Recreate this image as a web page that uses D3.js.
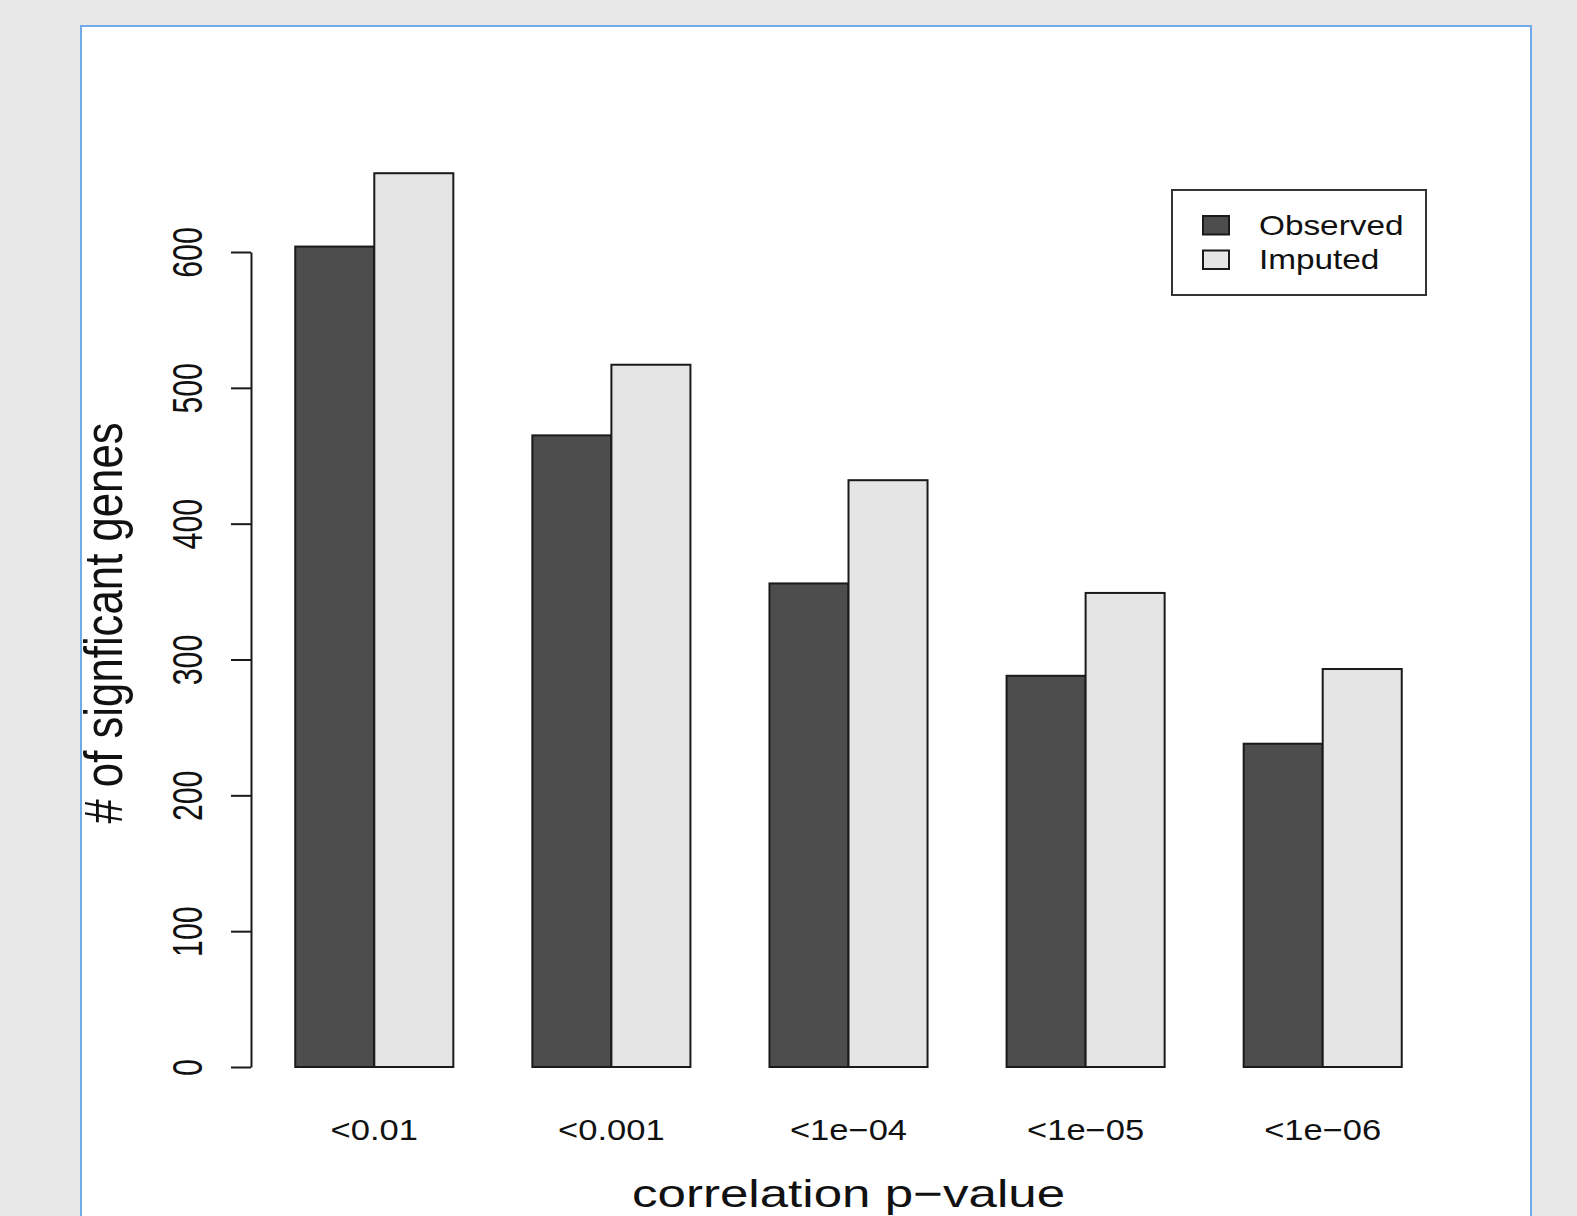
<!DOCTYPE html>
<html>
<head>
<meta charset="utf-8">
<script src="https://cdn.jsdelivr.net/npm/d3@7"></script>
<style>
  html, body { margin: 0; padding: 0; background: #e8e8e8; }
  svg { display: block; }
  text { font-family: "Liberation Sans", Arial, sans-serif; fill: #111; }
</style>
</head>
<body>
<svg id="chart" width="1577" height="1216"></svg>
<script>
const categories = ["<0.01", "<0.001", "<1e\u221204", "<1e\u221205", "<1e\u221206"];
const observed = [604, 465, 356, 288, 238];
const imputed = [658, 517, 432, 349, 293];
const seriesNames = ["Observed", "Imputed"];
const seriesColors = ["#4d4d4d", "#e5e5e5"];
const yTicks = [0, 100, 200, 300, 400, 500, 600];
const xTitle = "correlation p\u2212value";
const yTitle = "# of signficant genes";

const svg = d3.select("#chart");

// panel
svg.append("rect")
  .attr("x", 81).attr("y", 26).attr("width", 1450).attr("height", 1300)
  .attr("fill", "#ffffff").attr("stroke", "#72a9ea").attr("stroke-width", 2);

// R barplot units: bars of width 1, space 1 before each group
const x = d3.scaleLinear().domain([0.44, 15.56]).range([251, 1446]);
const y = d3.scaleLinear().domain([0, 600]).range([1067, 252]);

function stretch(sel, k) {
  sel.each(function () {
    const w = this.getComputedTextLength();
    this.setAttribute("textLength", w * k);
    this.setAttribute("lengthAdjust", "spacingAndGlyphs");
  });
}

const rows = categories.map((c, i) => ({ cat: c, i, vals: [observed[i], imputed[i]] }));

// bars
const g = svg.append("g");
rows.forEach(r => {
  r.vals.forEach((v, j) => {
    const u = 1 + 3 * r.i + j;
    g.append("rect")
      .attr("x", x(u)).attr("y", y(v))
      .attr("width", x(u + 1) - x(u)).attr("height", y(0) - y(v))
      .attr("fill", seriesColors[j])
      .attr("stroke", "#1a1a1a").attr("stroke-width", 2);
  });
});

// y axis
const yAxis = d3.axisLeft(y).tickValues(yTicks).tickSize(20).tickSizeOuter(0).tickFormat(d3.format("d"));
const ya = svg.append("g").attr("transform", `translate(${x(0.44)},0)`).call(yAxis);
ya.select(".domain").attr("stroke", "#1a1a1a").attr("stroke-width", 2);
ya.selectAll(".tick line").attr("stroke", "#1a1a1a").attr("stroke-width", 2);
const yt = ya.selectAll(".tick text")
  .attr("x", null).attr("dy", null)
  .attr("transform", "translate(-49.5,0) rotate(-90)")
  .attr("text-anchor", "middle")
  .style("font-size", "42px").attr("fill", "#111");
stretch(yt, 0.72);

// x category labels
const xl = svg.append("g").selectAll("text").data(rows).join("text")
  .attr("x", d => x(2 + 3 * d.i)).attr("y", 1140)
  .attr("text-anchor", "middle").style("font-size", "29px")
  .text(d => d.cat);
stretch(xl, 1.19);

// axis titles
const xt = svg.append("text")
  .attr("x", (x.range()[0] + x.range()[1]) / 2).attr("y", 1206.5)
  .attr("text-anchor", "middle").style("font-size", "39px").text(xTitle);
stretch(xt, 1.31);

const ytt = svg.append("text")
  .attr("transform", "translate(121.5,623) rotate(-90)")
  .attr("text-anchor", "middle").style("font-size", "54px").text(yTitle);
stretch(ytt, 0.81);

// legend
const lg = svg.append("g");
lg.append("rect").attr("x", 1172).attr("y", 190).attr("width", 254).attr("height", 105)
  .attr("fill", "#fff").attr("stroke", "#333").attr("stroke-width", 2);
seriesNames.forEach((name, j) => {
  const base = 234.5 + j * 34.5;
  lg.append("rect").attr("x", 1203).attr("y", base - 18.5).attr("width", 26).attr("height", 18.5)
    .attr("fill", seriesColors[j]).attr("stroke", "#1a1a1a").attr("stroke-width", 2);
  const t = lg.append("text").attr("x", 1259).attr("y", base)
    .style("font-size", "28px").text(name);
  stretch(t, 1.19);
});
</script>
</body>
</html>
